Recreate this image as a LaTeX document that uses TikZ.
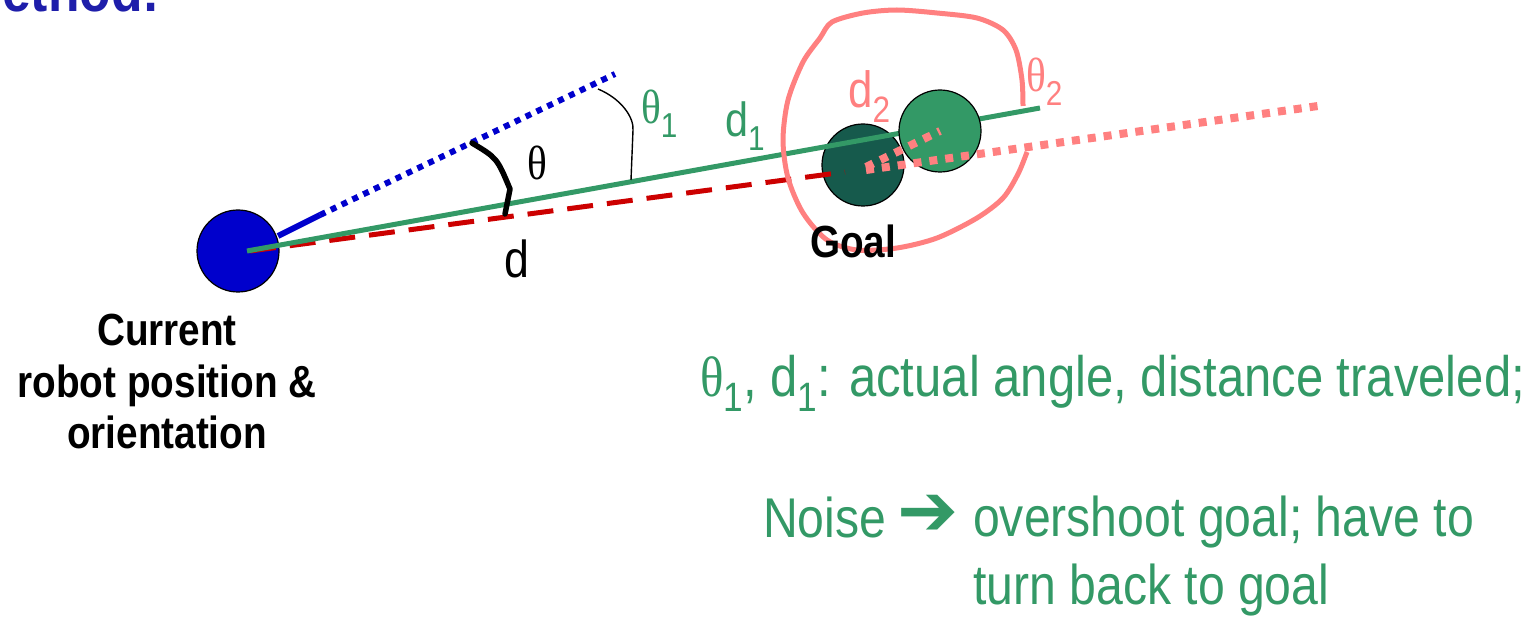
\documentclass[tikz,border=0pt]{standalone}
\usepackage{fontspec}
\setmainfont{Liberation Sans}[FakeStretch=0.86]
\newfontfamily\grkfont{Liberation Serif}[FakeStretch=0.86]
\newfontfamily\symfont{DejaVu Sans}
\usetikzlibrary{arrows.meta}
\definecolor{titleblue}{RGB}{30,30,170}
\definecolor{robotblue}{RGB}{0,0,204}
\definecolor{pathgreen}{RGB}{51,153,102}
\definecolor{goalgreen}{RGB}{22,90,76}
\definecolor{noisered}{RGB}{204,0,0}
\definecolor{errsalmon}{RGB}{255,128,128}
\newcommand{\lowsub}[1]{\raisebox{-.28em}{\scalebox{.72}{#1}}}
\newcommand{\thetasym}{{\grkfont θ}}

\begin{document}
\begin{tikzpicture}[x=1pt,y=-1pt,
  disc/.style={circle,draw=black,line width=1.2pt,minimum size=82pt,inner sep=0pt},
  label/.style={inner sep=0pt,font=\fontsize{48}{52}\selectfont},
  bold/.style={inner sep=0pt,align=center,font=\fontsize{45}{51.5}\selectfont\bfseries},
  note/.style={inner sep=0pt,text=pathgreen,font=\fontsize{56}{68}\selectfont},
  dots/.style={line width=#1,dash pattern=on #1 off #1}]
\useasboundingbox (0,0) rectangle (1537,620);
% cut-off title
\begin{scope}
  \clip (0,0) rectangle (1537,620);
  \node[bold,text=titleblue,font=\fontsize{60}{60}\selectfont\bfseries,anchor=base east] (title) at (160,12) {Method:};
\end{scope}
% robot, goal
\node[disc,fill=robotblue] (robot) at (238,251) {};
\node[disc,fill=goalgreen] (goal) at (863,165) {};
\coordinate (aim) at (615,74);
\coordinate (dend) at (845,172);
\coordinate (d1end) at (1040,108);
% planned and actual headings
\draw[noisered,line width=5pt,dash pattern=on 26pt off 14pt] (robot.center) ++(12,0) -- (dend);
\draw[pathgreen,line width=5pt] (robot.center) ++(9,0) -- (d1end);
\draw[robotblue,line width=6pt] (robot.center) ++(40,-15) -- ++(42,-21) coordinate (blueend);
\draw[robotblue,dots=6pt] (blueend) -- (aim);
% overshoot
\node[disc,fill=pathgreen] (overshoot) at (940,131) {};
\draw[errsalmon,dots=8pt] (866,167) -- (overshoot.center);
\draw[errsalmon,dots=8pt] (866,170) -- (1318,106);
% angle marks
\draw[black,line width=5.5pt,line cap=round,line join=round] (472,143) .. controls (497,158) .. (510,189) -- (505,214);
\draw[black,line width=1.4pt] (598,89) .. controls (622,99) and (634,118) .. (633,130) -- (631,180);
% error region
\draw[errsalmon,line width=5pt] plot[smooth] coordinates {(1023,106) (1022,80) (1016,50) (1003,30) (977,18) (937,13) (897,10) (863,13) (832,22) (820,38) (803,62) (788,100) (783,140) (788,178) (803,213) (827,240) (857,250) (897,248) (937,238) (977,218) (1003,198) (1018,174) (1027,152)};
% labels
\node[bold,anchor=base] (goallabel) at (853,258) {Goal};
\node[bold,anchor=north] (robotlabel) at (167,314) {Current\\robot position \&\\orientation};
\node[label,anchor=base] (thetalabel) at (537,180) {\thetasym};
\node[label,anchor=base,font=\fontsize{52}{52}\selectfont] (dlabel) at (517,278) {d};
\node[label,text=pathgreen,anchor=base west] (theta1) at (641,124) {\thetasym\lowsub{1}};
\node[label,text=pathgreen,anchor=base west] (d1) at (725,137) {d\lowsub{1}};
\node[label,text=errsalmon,anchor=base west,font=\fontsize{51}{52}\selectfont] (d2) at (848,108) {d\lowsub{2}};
\node[label,text=errsalmon,anchor=base west] (theta2) at (1026,92) {\thetasym\lowsub{2}};
% notes
\node[note,anchor=base west,font=\fontsize{57}{68}\selectfont] (actual) at (700,396) {\thetasym\lowsub{1}, d\lowsub{1}: actual angle, distance traveled;};
\node[note,anchor=base west] (noise) at (763,537) {Noise\hspace{11pt}\raisebox{2pt}{\symfont\fontsize{73}{73}\selectfont ➔}};
\node[note,anchor=north west,align=left] (effect) at (973,496) {overshoot goal; have to\\turn back to goal};
\end{tikzpicture}
\end{document}
